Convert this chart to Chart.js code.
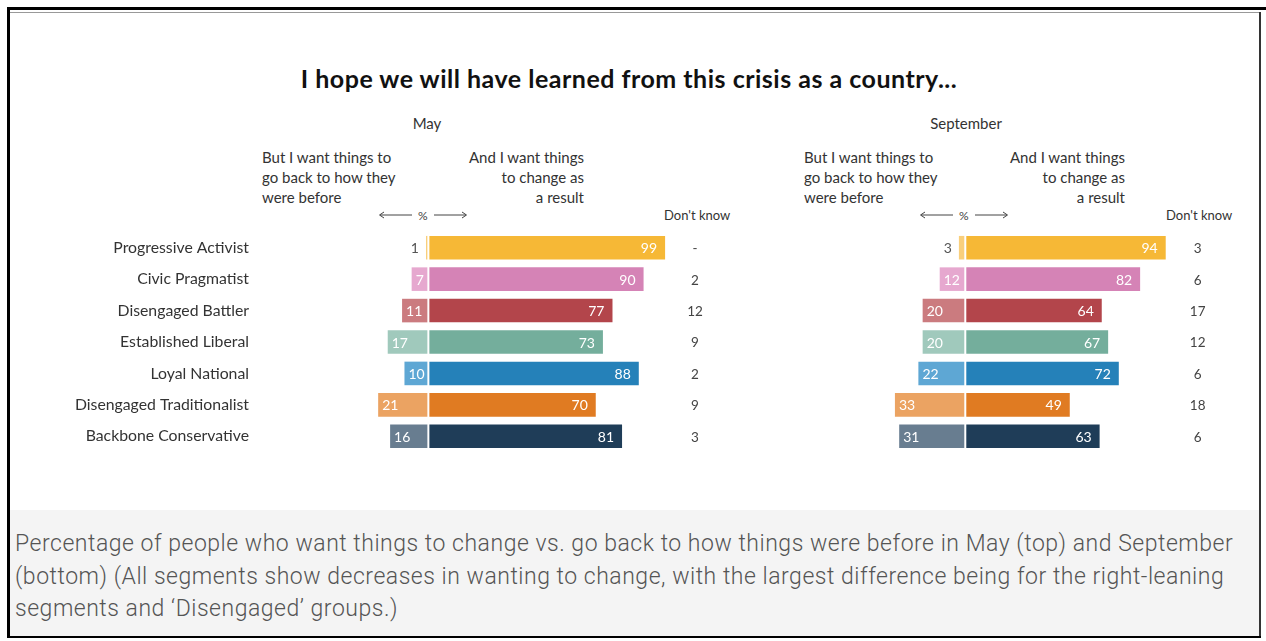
<!DOCTYPE html>
<html>
<head>
<meta charset="utf-8">
<title>I hope we will have learned from this crisis as a country...</title>
<script src="https://cdn.jsdelivr.net/npm/chart.js@4"></script>
<style>
  body { margin: 0; background: #fff; font-family: Lato, 'Open Sans', sans-serif; color: #333; }
  #pagina { position: relative; width: 1266px; height: 641px; overflow: hidden; background: #fff; }
  .abs { position: absolute; white-space: nowrap; }
  .moldura { position: absolute; }
  #titulo { left: 0; width: 1258px; top: 62px; text-align: center; font-size: 25px; letter-spacing: 0.5px; font-weight: 700; color: #111; line-height: 32px; }
  .mes { font-size: 15px; line-height: 18px; text-align: center; width: 200px; }
  .cab { font-size: 15px; line-height: 20px; }
  .setas { display: flex; align-items: center; gap: 6px; font-size: 12px; color: #444; height: 16px; }
  .naosabe { font-size: 13px; line-height: 16px; color: #333; }
  #legenda { left: 10px; top: 510px; width: 1249px; height: 126px; background: #f4f4f4; }
  #legenda p { margin: 0; position: absolute; left: 5px; top: 18px; font-family: Roboto, sans-serif; font-weight: 300; font-size: 23px; letter-spacing: 0.52px; line-height: 32.5px; color: #555; white-space: nowrap; }
  canvas { position: absolute; }
</style>
</head>
<body>
<div id="pagina">
  <!-- moldura -->
  <div class="moldura" style="left:7px; top:7px; width:1259px; height:3px; background:#000;"></div>
  <div class="moldura" style="left:10px; top:12px; width:1251px; height:1px; background:#999;"></div>
  <div class="moldura" style="left:7px; top:7px; width:3px; height:631px; background:#000;"></div>
  <div class="moldura" style="left:1259px; top:12px; width:2px; height:626px; background:#333;"></div>
  <div class="moldura" style="left:7px; top:636px; width:1254px; height:2px; background:#000;"></div>

  <div id="titulo" class="abs">I hope we will have learned from this crisis as a country...</div>

  <!-- cabeçalho maio -->
  <div class="abs mes" style="left:327px; top:114px;">May</div>
  <div class="abs cab" style="left:262px; top:147px;">But I want things to<br>go back to how they<br>were before</div>
  <div class="abs cab" style="right:682px; top:147px; text-align:right;">And I want things<br>to change as<br>a result</div>
  <div class="abs setas" style="left:378px; top:207px;">
    <svg width="34" height="10"><line x1="2" y1="5" x2="34" y2="5" stroke="#444" stroke-width="1"/><polyline points="6,2 1.5,5 6,8" fill="none" stroke="#444" stroke-width="1"/></svg>
    <span>%</span>
    <svg width="34" height="10"><line x1="0" y1="5" x2="32" y2="5" stroke="#444" stroke-width="1"/><polyline points="28,2 32.5,5 28,8" fill="none" stroke="#444" stroke-width="1"/></svg>
  </div>
  <div class="abs naosabe" style="left:664px; top:207px;">Don't know</div>

  <!-- cabeçalho setembro -->
  <div class="abs mes" style="left:866px; top:114px;">September</div>
  <div class="abs cab" style="left:804px; top:147px;">But I want things to<br>go back to how they<br>were before</div>
  <div class="abs cab" style="right:141px; top:147px; text-align:right;">And I want things<br>to change as<br>a result</div>
  <div class="abs setas" style="left:919px; top:207px;">
    <svg width="34" height="10"><line x1="2" y1="5" x2="34" y2="5" stroke="#444" stroke-width="1"/><polyline points="6,2 1.5,5 6,8" fill="none" stroke="#444" stroke-width="1"/></svg>
    <span>%</span>
    <svg width="34" height="10"><line x1="0" y1="5" x2="32" y2="5" stroke="#444" stroke-width="1"/><polyline points="28,2 32.5,5 28,8" fill="none" stroke="#444" stroke-width="1"/></svg>
  </div>
  <div class="abs naosabe" style="left:1166px; top:207px;">Don't know</div>

  <canvas id="graficoMaio" width="744" height="220" style="left:0; top:232px;"></canvas>
  <canvas id="graficoSetembro" width="371" height="220" style="left:880px; top:232px;"></canvas>

  <div id="legenda" class="abs"><p>Percentage of people who want things to change vs. go back to how things were before in May (top) and September<br>(bottom) (All segments show decreases in wanting to change, with the largest difference being for the right-leaning<br>segments and ‘Disengaged’ groups.)</p></div>
</div>

<script>
const segmentos = ['Progressive Activist', 'Civic Pragmatist', 'Disengaged Battler', 'Established Liberal',
  'Loyal National', 'Disengaged Traditionalist', 'Backbone Conservative'];

const maioVoltar = [1, 7, 11, 17, 10, 21, 16];
const maioMudar = [99, 90, 77, 73, 88, 70, 81];
const maioNaoSabe = [null, 2, 12, 9, 2, 9, 3];

const setembroVoltar = [3, 12, 20, 20, 22, 33, 31];
const setembroMudar = [94, 82, 64, 67, 72, 49, 63];
const setembroNaoSabe = [3, 6, 17, 12, 6, 18, 6];

const coresMudar = ['#f6b836', '#d583b6', '#b3454b', '#74ae9c', '#2581b9', '#e07b22', '#1f3d58'];
const coresVoltar = ['#f9cf7c', '#e6a8cf', '#cb7b7f', '#a0c9bc', '#5ea7d4', '#eba362', '#687d90'];

// escreve os valores nas barras e a coluna "Don't know"
const rotulosBarras = {
  id: 'rotulosBarras',
  afterDatasetsDraw(chart, args, opts) {
    const ctx = chart.ctx;
    const x = chart.scales.x;
    const area = chart.chartArea;
    const zero = x.getPixelForValue(0);

    ctx.save();
    // separação branca entre os dois lados
    ctx.fillStyle = '#fff';
    ctx.fillRect(zero - 1, area.top, 2, area.bottom - area.top);

    ctx.font = '14px Lato';
    ctx.textBaseline = 'middle';

    chart.getDatasetMeta(0).data.forEach((barra, i) => {
      const texto = String(opts.voltar[i]);
      const largura = ctx.measureText(texto).width;
      if (barra.base - barra.x > largura + 4) {
        ctx.fillStyle = '#fff';
        ctx.textAlign = 'left';
        ctx.fillText(texto, barra.x + 4, barra.y + 1);
      } else {
        ctx.fillStyle = '#555';
        ctx.textAlign = 'right';
        ctx.fillText(texto, barra.x - 7, barra.y + 1);
      }
    });

    chart.getDatasetMeta(1).data.forEach((barra, i) => {
      ctx.fillStyle = '#fff';
      ctx.textAlign = 'right';
      ctx.fillText(String(opts.mudar[i]), barra.x - 8, barra.y + 1);
    });

    const xNaoSabe = x.getPixelForValue(opts.posNaoSabe);
    ctx.font = '13.5px Lato';
    ctx.fillStyle = '#444';
    ctx.textAlign = 'center';
    chart.getDatasetMeta(1).data.forEach((barra, i) => {
      const v = opts.naoSabe[i];
      ctx.fillText(v === null ? '-' : String(v), xNaoSabe, barra.y + 1);
    });
    ctx.restore();
  }
};

function desenhaGrafico(id, voltar, mudar, naoSabe, escala, comRotulos) {
  const ctx = document.getElementById(id).getContext('2d');

  new Chart(ctx, {
    type: 'bar',
    data: {
      labels: segmentos,
      datasets: [
        {
          label: 'But I want things to go back to how they were before',
          data: voltar.map(v => -v),
          backgroundColor: coresVoltar,
          borderWidth: 0,
        },
        {
          label: 'And I want things to change as a result',
          data: mudar,
          backgroundColor: coresMudar,
          borderWidth: 0,
        },
      ],
    },
    options: {
      indexAxis: 'y',
      responsive: false,
      animation: false,
      events: [],
      layout: { padding: 0, autoPadding: false },
      datasets: {
        bar: { categoryPercentage: 1, barPercentage: 0.75 }
      },
      plugins: {
        legend: { display: false },
        tooltip: { enabled: false },
        rotulosBarras: {
          voltar: voltar,
          mudar: mudar,
          naoSabe: naoSabe,
          posNaoSabe: escala.naoSabe,
        },
      },
      scales: {
        x: {
          stacked: true,
          display: false,
          min: escala.min,
          max: escala.max,
        },
        y: {
          stacked: true,
          display: comRotulos,
          grid: { display: false, drawTicks: false },
          border: { display: false },
          ticks: {
            color: '#333',
            padding: 12,
            autoSkip: false,
            font: { family: 'Lato', size: 15.8 },
          },
          afterFit: (scale) => {
            if (comRotulos) scale.width = 261;
            scale.paddingTop = 0;
            scale.paddingBottom = 0;
          },
        },
      },
    },
    plugins: [rotulosBarras],
  });
}

function gerarGraficos() {
  desenhaGrafico('graficoMaio', maioVoltar, maioMudar, maioNaoSabe,
    { min: -70, max: 132, naoSabe: 111.5 }, true);
  desenhaGrafico('graficoSetembro', setembroVoltar, setembroMudar, setembroNaoSabe,
    { min: -40, max: 134, naoSabe: 109 }, false);
}

window.addEventListener('load', gerarGraficos);
</script>
</body>
</html>
